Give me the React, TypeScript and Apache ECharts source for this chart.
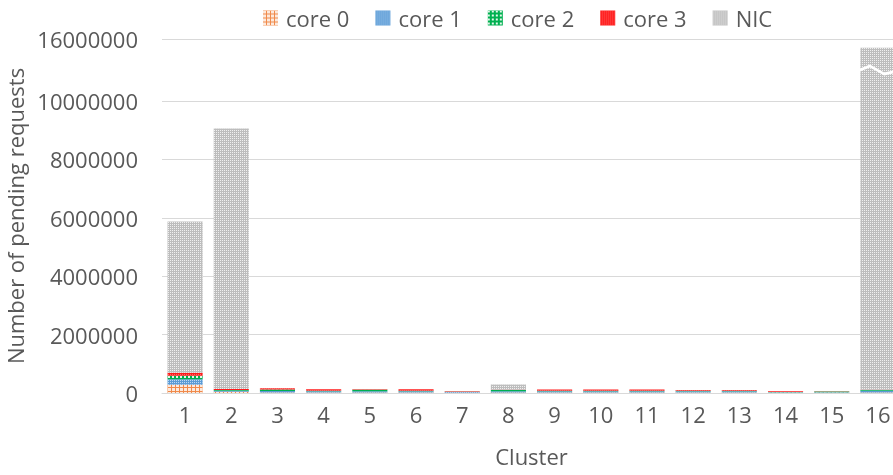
import React, { useEffect, useRef } from "react";
import * as echarts from "echarts";

const clusters = ["1", "2", "3", "4", "5", "6", "7", "8", "9", "10", "11", "12", "13", "14", "15", "16"];
const core0 = [280000, 40000, 20000, 20000, 20000, 20000, 10000, 20000, 20000, 20000, 20000, 20000, 20000, 10000, 10000, 20000];
const core1 = [190000, 40000, 50000, 40000, 40000, 40000, 20000, 40000, 40000, 40000, 40000, 40000, 40000, 15000, 15000, 60000];
const core2 = [120000, 20000, 50000, 20000, 50000, 20000, 10000, 40000, 20000, 20000, 20000, 20000, 20000, 10000, 30000, 20000];
const core3 = [100000, 40000, 40000, 45000, 15000, 45000, 20000, 10000, 40000, 40000, 40000, 20000, 20000, 25000, 5000, 10000];
const nic = [5180000, 8920000, 0, 0, 0, 0, 0, 180000, 0, 0, 0, 0, 0, 0, 0, 15590000];
const yTicks = [0, 2000000, 4000000, 6000000, 8000000, 10000000, 16000000];

const FONT = "Open Sans";
const TXT = "#595959";
const GRID = "#D9D9D9";

export default function App() {
  const ref = useRef<HTMLDivElement>(null);
  useEffect(() => {
    if (!ref.current) return;
    const chart = echarts.init(ref.current, undefined, { renderer: "svg" });
    const mk = (name: string, data: number[], color: string, decal: any, extra: any = {}) => ({
      name,
      type: "bar",
      stack: "total",
      data,
      barCategoryGap: "24%",
      itemStyle: { color, decal },
      ...extra,
    });
    chart.setOption({
      animation: false,
      textStyle: { fontFamily: FONT },
      legend: {
        top: 2,
        left: 258,
        itemWidth: 15,
        itemHeight: 15,
        itemGap: 26,
        icon: "rect",
        textStyle: { fontSize: 22, color: TXT, fontFamily: FONT, padding: [0, 0, 0, 3] },
        data: ["core 0", "core 1", "core 2", "core 3", "NIC"],
      },
      grid: { left: 162, right: -8, top: 39, bottom: 82, containLabel: false, outerBoundsMode: "none" },
      xAxis: {
        type: "category",
        data: clusters,
        name: "Cluster",
        nameLocation: "middle",
        nameGap: 52,
        nameTextStyle: { fontSize: 22, color: TXT, fontFamily: FONT },
        axisLine: { lineStyle: { color: GRID } },
        axisTick: { show: false },
        axisLabel: { fontSize: 22, color: TXT, fontFamily: FONT, margin: 10 },
      },
      yAxis: {
        type: "value",
        min: 0,
        max: 16000000,
        interval: 1000000,
        breaks: [{ start: 11010000, end: 14990000, gap: 100000 }],
        breakArea: {
          show: true,
          itemStyle: { color: "#ffffff", borderColor: "#ffffff", borderWidth: 0, opacity: 1 },
          zigzagAmplitude: 4,
          zigzagMinSpan: 14,
          zigzagMaxSpan: 20,
          expandOnClick: false,
        },
        name: "Number of pending requests",
        nameLocation: "middle",
        nameGap: 135,
        nameTextStyle: { fontSize: 22, color: TXT, fontFamily: FONT },
        axisLine: { show: false },
        axisTick: { show: false },
        splitLine: { show: false },
        axisLabel: {
          fontSize: 22,
          color: TXT,
          fontFamily: FONT,
          margin: 24,
          showMaxLabel: true,
          hideOverlap: false,
          formatter: (v: number, _i: number, extra: any) => {
            if (extra && extra.break) return "";
            return yTicks.indexOf(v) >= 0 ? String(v) : "";
          },
        },
      },
      series: [
        mk("core 0", core0, "#F08A4B", {
          symbol: "rect",
          symbolSize: 1,
          color: "#FCE9DC",
          dashArrayX: [3, 1],
          dashArrayY: [3, 1],
        }, {
          markLine: {
            silent: true,
            symbol: "none",
            z: 1,
            label: { show: false },
            lineStyle: { color: GRID, width: 1, type: "solid" },
            data: yTicks.map((v) => ({ yAxis: v })),
          },
        }),
        mk("core 1", core1, "#5B9BD5", {
          symbol: "rect",
          symbolSize: 1,
          color: "rgba(205,228,250,0.85)",
          dashArrayX: [1, 1],
          dashArrayY: [1, 1],
        }),
        mk("core 2", core2, "#00B050", {
          symbol: "rect",
          symbolSize: 1,
          color: "#E6F7EC",
          dashArrayX: [2, 2],
          dashArrayY: [2, 2],
        }),
        mk("core 3", core3, "#FF1A1A", {
          symbol: "rect",
          symbolSize: 1,
          color: "rgba(255,150,150,0.6)",
          dashArrayX: [1, 1],
          dashArrayY: [1, 1],
        }),
        mk("NIC", nic, "#BDBDBD", {
          symbol: "rect",
          symbolSize: 1,
          color: "#F0F0F0",
          dashArrayX: [1, 1],
          dashArrayY: [1, 1],
        }),
      ],
    });
    return () => chart.dispose();
  }, []);
  return <div ref={ref} style={{ position: "fixed", left: 0, top: 0, width: 893, height: 475 }} />;
}
